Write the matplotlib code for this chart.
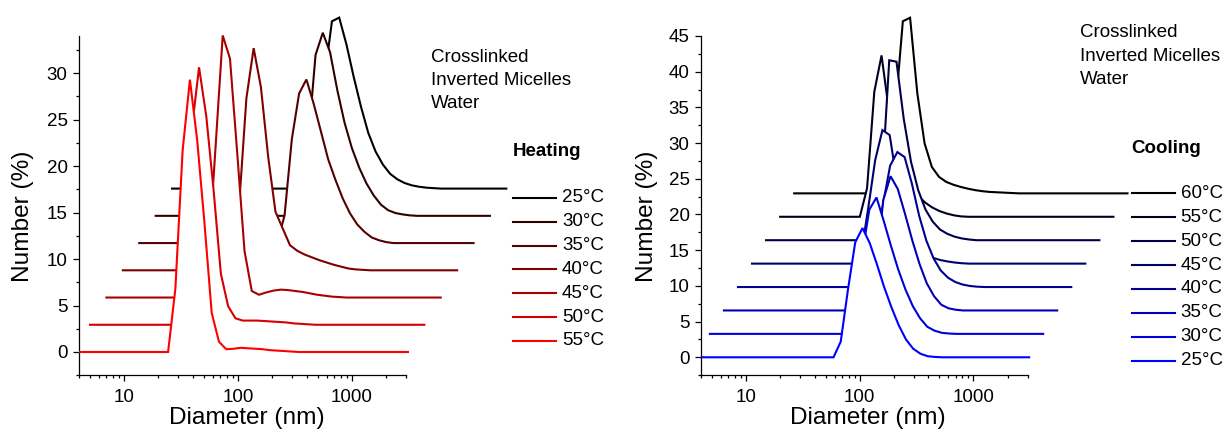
import matplotlib
matplotlib.use('Agg')
import matplotlib.pyplot as plt
import numpy as np
from matplotlib.patches import Rectangle
from matplotlib.lines import Line2D
from matplotlib.ticker import FixedLocator, MultipleLocator, NullFormatter, FuncFormatter

plt.rcParams['font.family'] = ['Liberation Sans', 'DejaVu Sans']

# DLS size classes (nm)
sizes = [3.615, 4.187, 4.849, 5.615, 6.503, 7.531, 8.721, 10.1, 11.7, 13.54,
         15.69, 18.17, 21.04, 24.36, 28.21, 32.67, 37.84, 43.82, 50.75, 58.77,
         68.06, 78.82, 91.28, 105.7, 122.4, 141.8, 164.2, 190.1, 220.2, 255.0,
         295.3, 342.0, 396.1, 458.7, 531.2, 615.1, 712.4, 825.0, 955.4, 1106,
         1281, 1484, 1718, 1990, 2305, 2669, 3091]

# heating run, legend order (back to front); each list starts at the size in heat_start
heat_labels = ['25°C', '30°C', '35°C', '40°C', '45°C', '50°C', '55°C']
heat_colors = ['#000000', '#2e0000', '#550000', '#800000', '#aa0000', '#d40000', '#ff0000']
heat_start = [68.06, 68.06, 68.06, 37.84, 28.21, 24.36, 28.21]
heat_25 = [2, 12, 18.0, 18.4, 15.5, 12.0, 8.8, 6.0, 4.0, 2.6, 1.6, 1.0, 0.6, 0.35, 0.2, 0.1, 0.05]
heat_30 = [2, 8, 17.3, 19.7, 17.6, 13.5, 10.0, 7.3, 5.2, 3.5, 2.2, 1.2, 0.6, 0.3, 0.15, 0.05]
heat_35 = [3, 11.2, 16.1, 17.6, 15.0, 12.0, 9.0, 6.8, 4.8, 3.2, 2.0, 1.2, 0.6, 0.3, 0.1]
heat_40 = [7, 18.5, 23.9, 19.7, 12.2, 6.3, 4.5, 2.7, 2.1, 1.7, 1.4, 1.1, 0.85, 0.6, 0.4, 0.2, 0.1, 0.05]
heat_45 = [4, 16, 28.2, 25.7, 15.5, 5.0, 0.7, 0.3, 0.55, 0.75, 0.85, 0.8, 0.7, 0.6, 0.45, 0.3, 0.2, 0.1, 0.05]
heat_50 = [6, 21, 27.7, 22.4, 14.5, 5.5, 2.0, 0.7, 0.45, 0.45, 0.45, 0.4, 0.35, 0.3, 0.25, 0.15, 0.1, 0.05]
heat_55 = [6.8, 21.7, 29.3, 22.8, 13.9, 4.2, 1.1, 0.3, 0.35, 0.45, 0.4, 0.35, 0.3, 0.2, 0.15, 0.1, 0.05]
heat_data = [heat_25, heat_30, heat_35, heat_40, heat_45, heat_50, heat_55]

# cooling run, legend order (back to front)
cool_labels = ['60°C', '55°C', '50°C', '45°C', '40°C', '35°C', '30°C', '25°C']
cool_colors = ['#000000', '#000024', '#000049', '#00006d', '#000092', '#0000b6', '#0000db', '#0000ff']
cool_start = [24.36, 21.04, 32.67, 32.67, 58.77, 68.06, 68.06, 68.06]
cool_60 = [1, 12, 24.1, 24.6, 14.0, 7.0, 3.7, 2.3, 1.6, 1.2, 0.9, 0.65, 0.45, 0.3, 0.2, 0.15, 0.1, 0.05]
cool_55 = [4, 17.5, 22.6, 15, 9.5, 6.5, 4.5, 3.0, 2.0, 1.3, 0.8, 0.45, 0.2, 0.05]
cool_50 = [1, 8, 25.2, 25.0, 17, 11, 7, 4.3, 2.6, 1.5, 0.9, 0.5, 0.25, 0.1]
cool_45 = [1, 7.5, 14.5, 18.7, 18.0, 11.5, 6.8, 3.6, 2.0, 1.2, 0.8, 0.5, 0.3, 0.15, 0.05]
cool_40 = [4, 11.5, 17, 18.9, 18.2, 14.5, 10.0, 6.5, 4.0, 2.3, 1.3, 0.7, 0.35, 0.15, 0.05]
cool_35 = [0.5, 6, 15.5, 18.8, 17.0, 13.5, 9.8, 6.5, 3.8, 2.0, 0.8, 0.3, 0.1]
cool_30 = [3, 11, 17.4, 19.1, 15.8, 12.3, 9.0, 6.2, 3.9, 2.2, 1.0, 0.45, 0.15, 0.05]
cool_25 = [2.2, 9.5, 16.1, 18.1, 16.0, 13.0, 9.8, 7.0, 4.5, 2.5, 1.2, 0.5, 0.15, 0.05]
cool_data = [cool_60, cool_55, cool_50, cool_45, cool_40, cool_35, cool_30, cool_25]

sample_text = ['Crosslinked', 'Inverted Micelles', 'Water']

FS = 13.5
W, H = 1225, 432


def full(start, vals):
    k = sizes.index(start)
    y = np.zeros(len(sizes))
    y[k:k + len(vals)] = vals
    return y


def waterfall(ax, starts, data, colors, xfac, dy):
    n = len(data)
    clip = Rectangle((0, 0), 5, 5, transform=ax.transAxes)  # clip only left/bottom
    x0 = np.array(sizes)
    for k in range(n):
        s = n - 1 - k          # shift index, front curve has 0
        z = 10 + 2 * (n - s)
        x = x0 * xfac ** s
        y = full(starts[k], data[k]) + dy * s
        f = ax.fill_between(x, dy * s, y, color='white', lw=0, zorder=z - 1)
        f.set_clip_path(clip)
        ln, = ax.plot(x, y, color=colors[k], lw=1.5, zorder=z, solid_joinstyle='miter')
        ln.set_clip_path(clip)


def style(ax, ytop):
    ax.set_xscale('log')
    ax.set_xlim(4, 3000)
    ax.set_ylim(-2.5, ytop)
    for sp in ['top', 'right']:
        ax.spines[sp].set_visible(False)
    for sp in ['left', 'bottom']:
        ax.spines[sp].set_linewidth(0.9)
    ax.xaxis.set_major_locator(FixedLocator([10, 100, 1000]))
    ax.xaxis.set_major_formatter(FuncFormatter(lambda v, p: '%g' % v))
    ax.xaxis.set_minor_locator(FixedLocator([4, 5, 6, 7, 8, 9, 20, 30, 40, 50, 60, 70, 80, 90,
                                             200, 300, 400, 500, 600, 700, 800, 900, 2000, 3000]))
    ax.xaxis.set_minor_formatter(NullFormatter())
    ax.yaxis.set_major_locator(MultipleLocator(5))
    ax.yaxis.set_minor_locator(MultipleLocator(2.5))
    ax.tick_params(which='both', direction='out', width=0.9, labelsize=FS)
    ax.tick_params(which='major', length=4)
    ax.tick_params(which='minor', length=2.5)
    ax.tick_params(axis='x', pad=6)
    ax.tick_params(axis='y', pad=4)


def legend(title, labels, colors, x, ty, y0, step):
    fig.text(x / W, 1 - ty / H, title, fontsize=FS, fontweight='bold', va='center')
    for k, lab in enumerate(labels):
        yy = 1 - (y0 + k * step) / H
        fig.add_artist(Line2D([x / W, (x + 43) / W], [yy, yy], color=colors[k], lw=1.5))
        fig.text((x + 49) / W, yy, lab, fontsize=FS, va='center')


fig = plt.figure(figsize=(12.25, 4.32), dpi=100)

ax1 = fig.add_axes([0.0642, 0.1314, 0.2676, 0.7853])
waterfall(ax1, heat_start, heat_data, heat_colors, 10 ** (16.4 / 114), 2.93)
style(ax1, 34)

ax2 = fig.add_axes([0.5721, 0.1316, 0.2668, 0.7851])
waterfall(ax2, cool_start, cool_data, cool_colors, 10 ** (14.05 / 113.7), 3.28)
style(ax2, 45)

for cx in [246.7, 868.3]:
    fig.text(cx / W, 1 - 418 / H, 'Diameter (nm)', fontsize=17.6, ha='center', va='center')
for cx in [23.3, 647.5]:
    fig.text(cx / W, 1 - 216.7 / H, 'Number (%)', fontsize=17.6, rotation=90,
             ha='center', va='center')

for j, line in enumerate(sample_text):
    fig.text(431 / W, 1 - (57 + 23.3 * j) / H, line, fontsize=FS, va='center')
    fig.text(1080 / W, 1 - (32.3 + 23.8 * j) / H, line, fontsize=FS, va='center')

legend('Heating', heat_labels, heat_colors, 513, 152, 198, 23.8)
legend('Cooling', cool_labels, cool_colors, 1131.7, 148.3, 193.3, 23.9)

fig.savefig('out.png', dpi=100)
